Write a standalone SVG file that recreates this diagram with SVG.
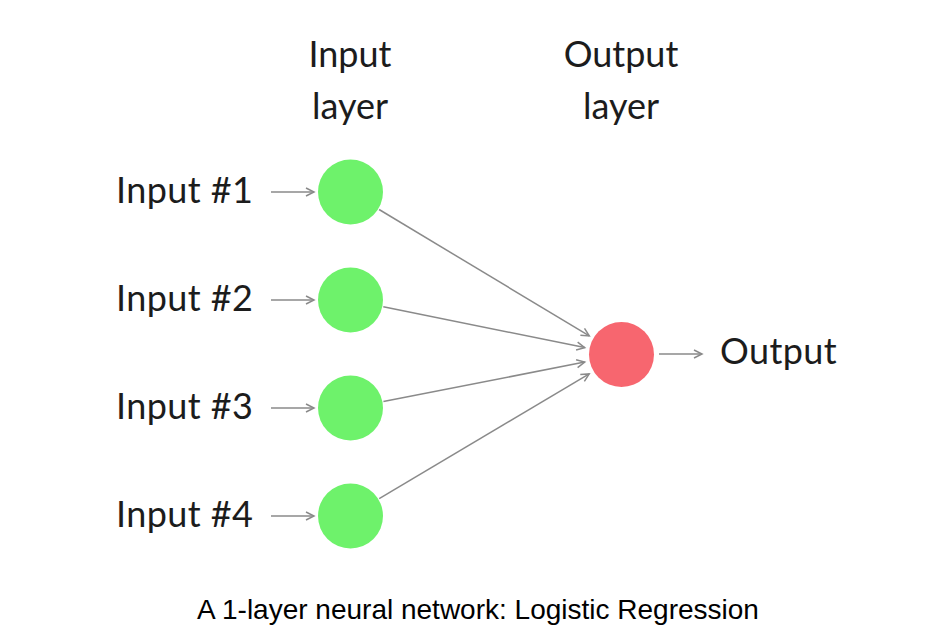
<svg xmlns="http://www.w3.org/2000/svg" width="948" height="640" viewBox="0 0 948 640">
<defs>
<style>
.lbl{font-family:Lato,"Open Sans","DejaVu Sans",sans-serif;font-size:36px;fill:#1c1c1c;letter-spacing:0.4px}
.hdr{font-family:Lato,"Open Sans","DejaVu Sans",sans-serif;font-size:36px;fill:#1c1c1c;text-anchor:middle}
.cap{font-family:"Liberation Sans",Arial,sans-serif;font-size:28px;fill:#000;text-anchor:middle}
.in{fill:#6EF26B}
.out{fill:#F7666F}
.edge{stroke:#8a8a8a;stroke-width:1.5;fill:none;marker-end:url(#arr)}
</style>
<marker id="arr" markerUnits="userSpaceOnUse" markerWidth="12" markerHeight="12" refX="9" refY="5" orient="auto" viewBox="0 0 12 10">
<path d="M1,1 L9,5 L1,9" fill="none" stroke="#8a8a8a" stroke-width="1.5"/>
</marker>
</defs>
<rect width="948" height="640" fill="#fff"/>
<g id="headers">
<text class="hdr" x="350" y="67">Input</text>
<text class="hdr" x="350" y="119">layer</text>
<text class="hdr" x="621" y="67">Output</text>
<text class="hdr" x="621" y="119">layer</text>
</g>
<g id="connectors">
<line class="edge" x1="271" y1="192" x2="314" y2="192"/>
<line class="edge" x1="271" y1="300" x2="314" y2="300"/>
<line class="edge" x1="271" y1="408" x2="314" y2="408"/>
<line class="edge" x1="271" y1="516" x2="314" y2="516"/>
<line class="edge" x1="379.1" y1="209.5" x2="589.3" y2="335.9"/>
<line class="edge" x1="383.3" y1="306.8" x2="584.7" y2="347.6"/>
<line class="edge" x1="383.4" y1="401.5" x2="584.7" y2="362.1"/>
<line class="edge" x1="379.2" y1="498.6" x2="589.2" y2="373.9"/>
<line class="edge" x1="659" y1="354" x2="702" y2="354"/>
</g>
<g id="input1"><text class="lbl" x="116" y="203">Input #1</text><circle class="in" cx="350.5" cy="192" r="32.5"/></g>
<g id="input2"><text class="lbl" x="116" y="311">Input #2</text><circle class="in" cx="350.5" cy="300" r="32.5"/></g>
<g id="input3"><text class="lbl" x="116" y="419">Input #3</text><circle class="in" cx="350.5" cy="408" r="32.5"/></g>
<g id="input4"><text class="lbl" x="116" y="527">Input #4</text><circle class="in" cx="350.5" cy="516" r="32.5"/></g>
<g id="output"><circle class="out" cx="621.5" cy="354.5" r="32.5"/><text class="lbl" x="720" y="364">Output</text></g>
<g id="caption"><text class="cap" x="478" y="619">A 1-layer neural network: Logistic Regression</text></g>
</svg>
